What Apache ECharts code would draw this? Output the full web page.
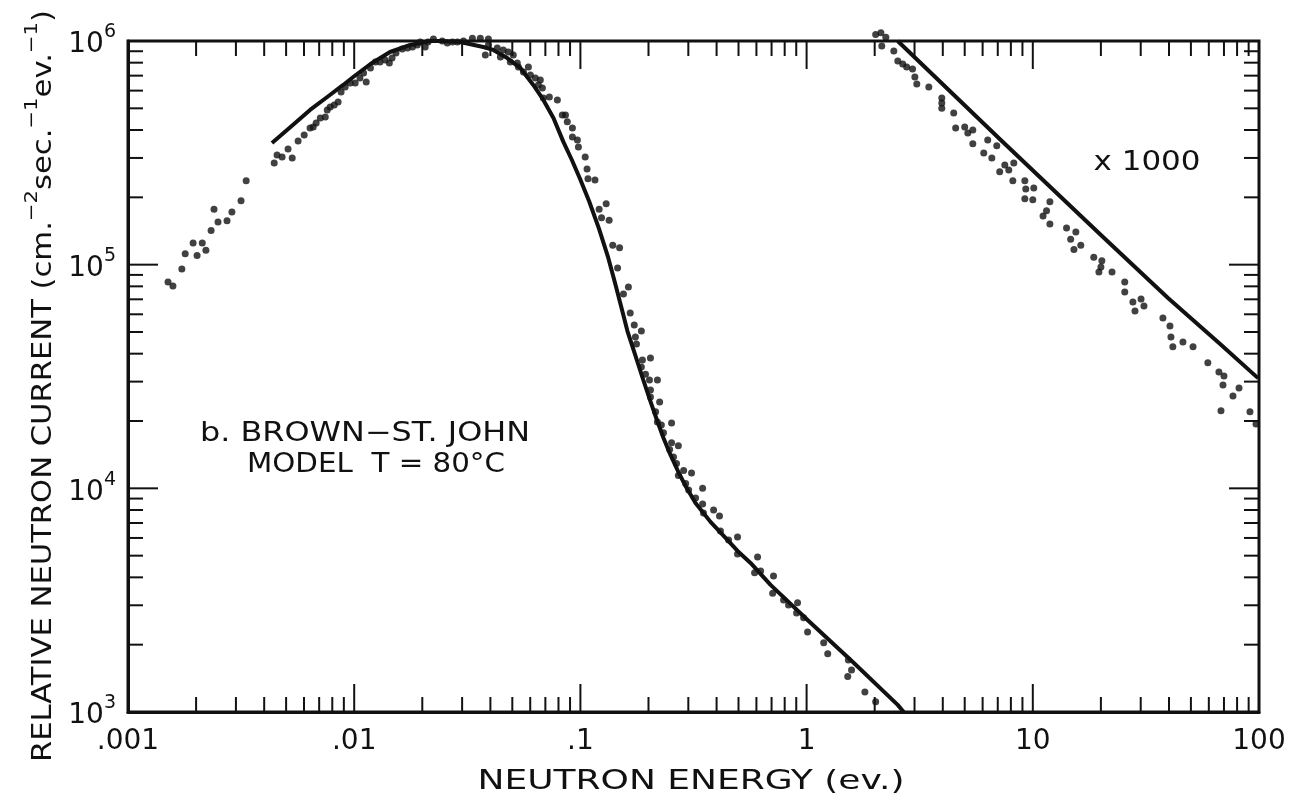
<!DOCTYPE html>
<html><head><meta charset="utf-8">
<script src="https://cdn.jsdelivr.net/npm/echarts@6/dist/echarts.min.js"></script>
<style>html,body{margin:0;padding:0;background:#fff}#c{width:1296px;height:804px}</style>
</head><body><div id="c"></div>
<script>
// ---------------- DATA ----------------
const xTickLabels = ['.001', '.01', '.1', '1', '10', '100'];
const yTickLabels = ['3', '4', '5', '6']; // exponents of 10
const xAxisName = 'NEUTRON ENERGY (ev.)';
const annotationLine1 = 'b. BROWN\u2212ST. JOHN';
const annotationLine2 = 'MODEL  T = 80\u00B0C';
const scaleNote = 'x 1000';

// theoretical spectrum (thermal Maxwellian + 1/E tail)
const theoryThermal = [
  [0.00433,3.50e5],[0.00537,4.22e5],[0.00638,4.92e5],[0.0076,5.62e5],[0.00894,6.36e5],
  [0.0099,6.90e5],[0.0118,7.89e5],[0.0144,8.93e5],[0.0177,9.60e5],[0.0217,1.0e6],
  [0.024,1.0e6],[0.0294,9.9e5],[0.0372,9.40e5],[0.0412,9.12e5],[0.0475,8.39e5],
  [0.0543,7.57e5],[0.0619,6.36e5],[0.0686,5.45e5],[0.076,4.53e5],[0.0841,3.54e5],
  [0.0918,2.93e5],[0.0998,2.41e5],[0.1093,1.92e5],[0.1208,1.45e5],[0.1322,1.09e5],
  [0.1420,8.35e4],[0.1526,6.30e4],[0.1614,5.05e4],[0.1751,3.92e4],[0.1881,3.13e4],
  [0.2040,2.45e4],[0.2191,1.99e4],[0.2330,1.68e4],[0.2502,1.41e4],[0.2714,1.18e4],
  [0.2915,1.025e4],[0.3227,8.60e3],[0.376,7.08e3],[0.4382,6.00e3],[0.4952,5.25e3],
  [0.5651,4.64e3],[0.6929,3.70e3],[1.01,2.58e3],[1.614,1.66e3],[2.528,1.076e3],[2.687,1.0e3]
];
// theoretical epithermal 1/E line, x 1000
const theoryEpithermal = [
  [2.528,1.0e6],[7.218,3.61e5],[20.0,1.358e5],[39.6,7.10e4],[67.9,4.38e4],[99.0,3.11e4]
];
// measured points, thermal region
const measuredThermal = [
  [0.001503,8.37e4],[0.00158,8.03e4],[0.00173,9.57e4],[0.00179,1.12e5],[0.00194,1.25e5],
  [0.00202,1.10e5],[0.00213,1.25e5],[0.00221,1.16e5],[0.00233,1.42e5],[0.0024,1.77e5],
  [0.0025,1.55e5],[0.00274,1.57e5],[0.00288,1.72e5],[0.00316,1.93e5],[0.00333,2.37e5],
  [0.00443,2.85e5],[0.00456,3.09e5],[0.0048,3.03e5],[0.0051,3.29e5],[0.00532,3.00e5],
  [0.00565,3.57e5],[0.00601,3.80e5],[0.00638,4.08e5],[0.00659,4.13e5],[0.00679,4.30e5],
  [0.00708,4.53e5],[0.00745,4.57e5],[0.0076,4.92e5],[0.00783,5.07e5],[0.00816,5.18e5],
  [0.00849,5.34e5],[0.00875,5.92e5],[0.00912,6.23e5],[0.0096,6.49e5],[0.0101,6.49e5],
  [0.0106,6.84e5],[0.011,7.19e5],[0.0113,6.56e5],[0.0118,7.57e5],[0.0124,8.05e5],
  [0.013,8.05e5],[0.0137,8.22e5],[0.0143,7.98e5],[0.0147,8.39e5],[0.0153,8.83e5],
  [0.0163,9.21e5],[0.0172,9.31e5],[0.0181,9.40e5],[0.019,9.60e5],[0.0196,9.90e5],
  [0.0206,9.40e5],[0.0212,9.90e5],[0.0224,1.02e6],[0.0245,1.0e6],[0.0258,9.80e5],
  [0.0272,9.90e5],[0.0286,9.90e5],[0.0304,1.0e6],[0.0333,1.03e6],[0.0361,1.03e6],
  [0.0392,1.02e6],[0.038,8.65e5],[0.0392,9.60e5],[0.0429,9.31e5],[0.0443,8.48e5],
  [0.0456,9.12e5],[0.048,8.93e5],[0.049,8.05e5],[0.0505,8.65e5],[0.0526,7.98e5],
  [0.0532,7.65e5],[0.056,7.27e5],[0.0589,7.65e5],[0.0601,7.05e5],[0.0632,6.84e5],
  [0.0665,6.70e5],[0.0679,6.17e5],[0.0652,6.36e5],[0.0686,5.56e5],[0.0729,5.62e5],
  [0.0791,5.45e5],[0.0832,4.67e5],[0.0859,4.67e5],[0.0875,4.35e5],[0.0922,4.08e5],
  [0.0922,3.72e5],[0.097,3.61e5],[0.098,3.36e5],[0.105,3.03e5],[0.107,2.68e5],
  [0.108,2.42e5],[0.116,2.39e5],[0.121,1.77e5],[0.13,1.87e5],[0.124,1.62e5],
  [0.134,1.58e5],[0.139,1.22e5],[0.149,1.19e5],[0.146,9.66e4],[0.163,7.94e4],
  [0.155,7.39e4],[0.166,6.08e4],[0.173,5.37e4],[0.186,5.05e4],[0.175,4.75e4],
  [0.177,4.42e4],[0.188,3.75e4],[0.204,3.83e4],[0.186,3.49e4],[0.194,3.24e4],
  [0.202,3.05e4],[0.219,3.05e4],[0.204,2.75e4],[0.204,2.56e4],[0.224,2.43e4],
  [0.215,2.20e4],[0.219,1.98e4],[0.253,1.96e4],[0.228,1.92e4],[0.233,1.77e4],
  [0.253,1.60e4],[0.271,1.55e4],[0.248,1.49e4],[0.258,1.38e4],[0.266,1.29e4],
  [0.286,1.20e4],[0.31,1.17e4],[0.271,1.14e4],[0.292,1.05e4],[0.301,9.84e3],
  [0.347,1.00e4],[0.323,9.06e3],[0.347,8.51e3],[0.388,8.00e3],[0.35,7.76e3],
  [0.412,7.53e3],[0.416,6.45e3],[0.452,5.88e3],[0.495,6.06e3],[0.495,5.09e3],
  [0.607,4.93e3],[0.626,4.27e3],[0.589,4.19e3],[0.714,4.06e3],[0.708,3.40e3],
  [0.791,3.17e3],[0.832,3.01e3],[0.912,3.08e3],[0.903,2.77e3],[0.97,2.64e3],
  [1.01,2.28e3],[1.19,2.04e3],[1.24,1.82e3],[1.53,1.71e3],[1.58,1.54e3],
  [1.52,1.44e3],[1.81,1.23e3],[2.02,1.11e3]
];
// measured points, epithermal region (x 1000)
const measuredEpithermal = [
  [2.02,1.07e6],[2.13,1.09e6],[2.24,1.04e6],[2.15,9.50e5],[2.43,9.02e5],[2.53,8.14e5],
  [2.66,7.89e5],[2.77,7.65e5],[2.94,7.50e5],[3.01,6.90e5],[3.07,6.43e5],[3.47,6.23e5],
  [3.96,5.56e5],[3.96,5.28e5],[3.96,5.01e5],[4.47,4.77e5],[4.56,4.08e5],[5.0,4.13e5],
  [5.16,3.88e5],[5.43,4.00e5],[5.43,3.47e5],[6.32,3.61e5],[6.93,3.40e5],[6.07,3.16e5],
  [6.59,3.00e5],[7.52,2.79e5],[8.24,2.85e5],[7.14,2.60e5],[7.83,2.65e5],[8.16,2.37e5],
  [9.22,2.37e5],[9.31,2.18e5],[10.1,2.20e5],[9.22,1.97e5],[10.0,1.95e5],[11.9,1.91e5],
  [11.5,1.74e5],[11.1,1.65e5],[11.9,1.52e5],[14.1,1.46e5],[15.5,1.40e5],[14.7,1.30e5],
  [16.3,1.22e5],[15.2,1.17e5],[18.6,1.08e5],[20.2,1.04e5],[20.0,9.77e4],[19.6,9.27e4],
  [22.4,9.27e4],[25.5,8.37e4],[25.5,7.55e4],[27.7,6.81e4],[30.1,7.03e4],[31.0,6.53e4],
  [28.3,6.21e4],[37.6,5.78e4],[40.4,5.32e4],[40.8,4.75e4],[41.6,4.29e4],[46.1,4.51e4],
  [51.1,4.29e4],[59.4,3.64e4],[66.5,3.31e4],[70.0,3.18e4],[69.3,2.90e4],[76.7,2.59e4],
  [81.6,2.81e4],[67.9,2.22e4],[91.2,2.20e4],[97.0,1.94e4]
];

// ---------------- LAYOUT ----------------
const X_MIN = 0.001, X_MAX = 100, Y_MIN = 1e3, Y_MAX = 1e6;
const FONT = 'DejaVu Sans';
const INK = '#111';

// tick positions (1..9 x decade) for the log axes
const xTicks = [], yTicks = [];
for (let n = -3; n <= 2; n++) for (let k = 1; k <= 9; k++) {
  const v = k * Math.pow(10, n); if (v <= X_MAX * 1.0001) xTicks.push([v, Y_MIN]);
}
for (let n = 3; n <= 6; n++) for (let k = 1; k <= 9; k++) {
  const v = k * Math.pow(10, n); if (v <= Y_MAX * 1.0001) yTicks.push([X_MIN, v]);
}
const isDecade = v => Math.abs(Math.log10(v) - Math.round(Math.log10(v))) < 1e-6;

const ctx = document.createElement('canvas').getContext('2d');
function tw(s, size) { ctx.font = size + 'px "' + FONT + '"'; return ctx.measureText(s).width; }

const chart = echarts.init(document.getElementById('c'), null, {renderer: 'canvas'});

const yNameBase = 26, yNameSup = 18;
const yNameWidth = tw('RELATIVE NEUTRON CURRENT (cm.sec.ev.)', yNameBase) + tw('\u22122', yNameSup) + 2 * tw('\u22121', yNameSup);
const yNameScale = 752 / yNameWidth;

function wideText(str, size, cx, cy, width) {
  return {type: 'text', x: cx, y: cy, scaleX: width / tw(str, size), z: 50,
    style: {text: str, fontSize: size, fontFamily: FONT, fill: INK, align: 'center', verticalAlign: 'middle'}};
}

const option = {
  backgroundColor: '#fff',
  animation: false,
  grid: {left: 128, right: 37, top: 41, bottom: 92, show: true, borderColor: INK, borderWidth: 3, backgroundColor: 'transparent'},
  xAxis: {
    type: 'log', logBase: 10, min: X_MIN, max: X_MAX, splitNumber: 5,
    axisLine: {show: true, lineStyle: {color: INK, width: 3}},
    axisTick: {show: false}, splitLine: {show: false}, minorTick: {show: false},
    axisLabel: {
      margin: 16, color: INK, fontSize: 28, fontFamily: FONT, showMinLabel: true, showMaxLabel: true,
      formatter: v => xTickLabels[Math.round(Math.log10(v)) + 3] || ''
    }
  },
  yAxis: {
    type: 'log', logBase: 10, min: Y_MIN, max: Y_MAX, splitNumber: 3,
    axisLine: {show: true, lineStyle: {color: INK, width: 3}},
    axisTick: {show: false}, splitLine: {show: false}, minorTick: {show: false},
    axisLabel: {
      margin: 12, showMinLabel: true, showMaxLabel: true,
      formatter: v => '{b|10}{e|' + (yTickLabels[Math.round(Math.log10(v)) - 3] || '') + '}',
      rich: {
        b: {fontSize: 28, fontFamily: FONT, color: INK, lineHeight: 36, verticalAlign: 'bottom'},
        e: {fontSize: 19, fontFamily: FONT, color: INK, lineHeight: 19, verticalAlign: 'top'}
      }
    }
  },
  graphic: [
    {type: 'text', x: 40, y: 386, rotation: Math.PI / 2, scaleX: yNameScale, z: 50,
      style: {
        text: '{b|RELATIVE NEUTRON CURRENT (cm.}{e|\u22122}{b|sec.}{e|\u22121}{b|ev.}{e|\u22121}{b|)}',
        align: 'center', verticalAlign: 'middle', fill: INK,
        rich: {
          b: {fontSize: yNameBase, fontFamily: FONT, fill: INK, color: INK, lineHeight: 34, verticalAlign: 'bottom'},
          e: {fontSize: yNameSup, fontFamily: FONT, fill: INK, color: INK, lineHeight: 18, verticalAlign: 'top'}
        }
      }},
    wideText(xAxisName, 27, 691, 782, 427),
    wideText(annotationLine1, 26, 365, 434, 330),
    wideText(annotationLine2, 26, 376, 465, 258),
    wideText(scaleNote, 27, 1147, 163, 107)
  ],
  series: [
    {
      type: 'custom', name: 'xticks', data: xTicks, clip: false, silent: true, z: 3,
      encode: {x: 0, y: 1},
      renderItem: (params, api) => {
        const v = api.value(0);
        const L = isDecade(v) ? 28 : 15;
        const b = api.coord([v, Y_MIN]), t = api.coord([v, Y_MAX]);
        return {type: 'group', children: [
          {type: 'line', shape: {x1: b[0], y1: b[1], x2: b[0], y2: b[1] - L}, style: {stroke: INK, lineWidth: 2}},
          {type: 'line', shape: {x1: t[0], y1: t[1], x2: t[0], y2: t[1] + L}, style: {stroke: INK, lineWidth: 2}}
        ]};
      }
    },
    {
      type: 'custom', name: 'yticks', data: yTicks, clip: false, silent: true, z: 3,
      encode: {x: 0, y: 1},
      renderItem: (params, api) => {
        const v = api.value(1);
        const L = isDecade(v) ? 30 : 15;
        const l = api.coord([X_MIN, v]), r = api.coord([X_MAX, v]);
        return {type: 'group', children: [
          {type: 'line', shape: {x1: l[0], y1: l[1], x2: l[0] + L, y2: l[1]}, style: {stroke: INK, lineWidth: 2}},
          {type: 'line', shape: {x1: r[0], y1: r[1], x2: r[0] - L, y2: r[1]}, style: {stroke: INK, lineWidth: 2}}
        ]};
      }
    },
    {type: 'line', name: 'theory thermal', data: theoryThermal, showSymbol: false, symbol: 'none',
      lineStyle: {color: INK, width: 4, join: 'round'}, z: 5},
    {type: 'line', name: 'theory epithermal', data: theoryEpithermal, showSymbol: false, symbol: 'none',
      lineStyle: {color: INK, width: 4, join: 'round'}, z: 5},
    {type: 'scatter', name: 'measured thermal', data: measuredThermal, symbol: 'circle', symbolSize: 7,
      itemStyle: {color: INK}, clip: false, z: 6},
    {type: 'scatter', name: 'measured epithermal', data: measuredEpithermal, symbol: 'circle', symbolSize: 7,
      itemStyle: {color: INK}, clip: false, z: 6}
  ]
};
chart.setOption(option);
</script>
</body></html>
